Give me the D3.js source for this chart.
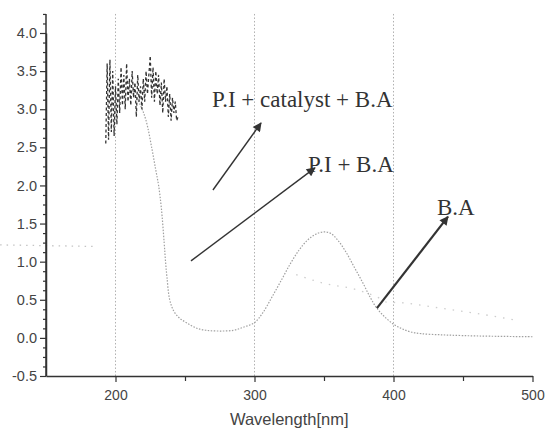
<!DOCTYPE html>
<html>
<head>
<meta charset="utf-8">
<script src="https://cdn.jsdelivr.net/npm/d3@7"></script>
<style>
  body { margin: 0; background: #fff; }
  svg { display: block; }
</style>
</head>
<body>
<svg id="chart" width="546" height="430"></svg>
<script>
// ---- data ----
// noisy dashed trace (P.I + catalyst + B.A), 1 nm steps from 193 nm
const noiseStart = 193;
const noiseValues = [
  2.55, 3.6, 2.6, 3.65, 2.7, 3.5, 2.65, 3.3, 2.8, 3.4,
  2.95, 3.55, 3.05, 3.45, 3.0, 3.6, 3.1, 3.4, 3.05, 3.5,
  3.15, 3.35, 2.9, 3.45, 3.1, 3.3, 3.0, 3.4, 3.1, 3.5,
  3.2, 3.45, 3.7, 3.15, 3.55, 3.1, 3.5, 3.2, 3.45, 3.05,
  3.35, 2.95, 3.4, 3.1, 3.3, 2.9, 3.2, 2.85, 3.15, 2.95,
  3.1, 2.85, 2.9
];

// gray dotted absorption curve
const curveWave = [212, 218, 222, 226, 229, 231, 233, 235, 236, 237, 239, 242, 246, 251, 258, 265, 275,
  285, 292, 300, 306, 313, 320, 326, 332, 338, 344, 350, 355, 360, 366, 372, 378, 383, 388,
  394, 400, 406, 412, 420, 435, 450, 470, 500];
const curveAbs = [3.25, 3.05, 2.85, 2.5, 2.2, 2.0, 1.7, 1.25, 1.0, 0.8, 0.5, 0.35, 0.26, 0.2, 0.13, 0.1, 0.09,
  0.1, 0.14, 0.2, 0.33, 0.55, 0.78, 0.98, 1.15, 1.28, 1.36, 1.39, 1.37, 1.28, 1.12, 0.92, 0.72, 0.54, 0.39,
  0.27, 0.18, 0.12, 0.08, 0.055, 0.04, 0.03, 0.022, 0.015];

// faint dotted trace
const faintWave = [330, 349, 374, 390, 395, 407, 430, 460, 486];
const faintAbs = [0.83, 0.72, 0.63, 0.52, 0.47, 0.46, 0.4, 0.32, 0.24];

// stray dotted trace left of the axis in the scan
const strayWave = [117, 150, 184];
const strayAbs = [1.22, 1.21, 1.2];

const xTicks = [200, 300, 400, 500];
const xMinor = [250, 350, 450];
const yTicks = [-0.5, 0, 0.5, 1.0, 1.5, 2.0, 2.5, 3.0, 3.5, 4.0];
const gridWave = [200, 300, 400];

// annotations: label, text anchor, arrow start, arrow tip (data units)
const labels = ["P.I + catalyst + B.A", "P.I + B.A", "B.A"];
const labelPos = [[269.4, 3.03], [338.5, 2.18], [431.3, 1.61]];
const arrowFrom = [[270.1, 1.94], [254.3, 1.01], [388.1, 0.39]];
const arrowTo = [[304.7, 2.82], [343.5, 2.23], [439.2, 1.59]];

// ---- scales ----
const x = d3.scaleLinear().domain([150, 500]).range([46, 532.5]);
const y = d3.scaleLinear().domain([-0.5, 4.0]).range([376, 33]);
const yTop = 4.25;

const svg = d3.select("#chart");
const plot = svg.append("g");

// vertical dotted grid lines
plot.selectAll(".grid")
  .data(gridWave)
  .enter()
  .append("line")
  .attr("x1", (d) => x(d))
  .attr("x2", (d) => x(d))
  .attr("y1", y(yTop))
  .attr("y2", y(-0.5))
  .attr("stroke", "#b0b0b0")
  .attr("stroke-width", 1)
  .attr("stroke-dasharray", "1.5,2");

const line = d3.line().x((d) => x(d[0])).y((d) => y(d[1]));

// stray dots
plot.append("path")
  .datum(strayWave.map((w, i) => [w, strayAbs[i]]))
  .attr("d", line)
  .attr("fill", "none")
  .attr("stroke", "#c4c4c4")
  .attr("stroke-width", 1.3)
  .attr("stroke-dasharray", "1.5,5");

// faint trace
plot.append("path")
  .datum(faintWave.map((w, i) => [w, faintAbs[i]]))
  .attr("d", d3.line().x((d) => x(d[0])).y((d) => y(d[1])).curve(d3.curveMonotoneX))
  .attr("fill", "none")
  .attr("stroke", "#cdcdcd")
  .attr("stroke-width", 1.3)
  .attr("stroke-dasharray", "1.5,7");

// main gray dotted curve
plot.append("path")
  .datum(curveWave.map((w, i) => [w, curveAbs[i]]))
  .attr("d", d3.line().x((d) => x(d[0])).y((d) => y(d[1])).curve(d3.curveCatmullRom))
  .attr("fill", "none")
  .attr("stroke", "#a0a0a0")
  .attr("stroke-width", 1.2)
  .attr("stroke-dasharray", "1.5,1.5");

// noisy dashed trace
plot.append("path")
  .datum(noiseValues.map((v, i) => [noiseStart + i, v]))
  .attr("d", line)
  .attr("fill", "none")
  .attr("stroke", "#333")
  .attr("stroke-width", 1.3)
  .attr("stroke-dasharray", "3,2.5");

// ---- axes ----
const axisColor = "#333";

const xAxis = svg.append("g")
  .attr("transform", `translate(0,${y(-0.5)})`)
  .call(d3.axisBottom(x).tickValues(xTicks).tickSize(6).tickSizeOuter(0).tickPadding(8));
svg.append("g")
  .attr("transform", `translate(0,${y(-0.5)})`)
  .call(d3.axisBottom(x).tickValues(xMinor).tickSize(5).tickFormat(""))
  .call((g) => g.select(".domain").remove());

const yAxis = svg.append("g")
  .attr("transform", `translate(${x(150)},0)`)
  .call(d3.axisLeft(y).tickValues(yTicks).tickSize(6).tickSizeOuter(0).tickPadding(3)
    .tickFormat((d) => d3.format(".1f")(d).replace("\u2212", "-")));

// minor ticks every 0.125
const yMinor = d3.range(-0.5, yTop + 0.001, 0.125).filter((d) => Math.abs(d * 2 - Math.round(d * 2)) > 0.01);
svg.append("g")
  .attr("transform", `translate(${x(150)},0)`)
  .call(d3.axisLeft(y).tickValues(yMinor).tickSize(3).tickFormat(""))
  .call((g) => g.select(".domain").remove());

// extend y axis line to the top of the frame
svg.append("line")
  .attr("x1", x(150)).attr("x2", x(150))
  .attr("y1", y(yTop)).attr("y2", y(-0.5))
  .attr("stroke", axisColor).attr("stroke-width", 1.5);

svg.selectAll(".domain").attr("stroke", axisColor).attr("stroke-width", 1.5);
svg.selectAll(".tick line").attr("stroke", axisColor).attr("stroke-width", 1.2);
svg.selectAll(".tick text")
  .attr("fill", "#444")
  .attr("font-family", "Liberation Sans, Arial, sans-serif");
xAxis.selectAll(".tick text").attr("font-size", 14);
yAxis.selectAll(".tick text").attr("font-size", 14.5);

svg.append("text")
  .attr("x", (x(150) + x(500)) / 2)
  .attr("y", 425)
  .attr("text-anchor", "middle")
  .attr("font-family", "Liberation Sans, Arial, sans-serif")
  .attr("font-size", 16.5)
  .attr("fill", "#444")
  .text("Wavelength[nm]");

// ---- annotations ----
const defs = svg.append("defs");
defs.append("marker")
  .attr("id", "head")
  .attr("viewBox", "0 0 10 10")
  .attr("refX", 9)
  .attr("refY", 5)
  .attr("markerWidth", 13)
  .attr("markerHeight", 9)
  .attr("markerUnits", "userSpaceOnUse")
  .attr("orient", "auto")
  .append("path")
  .attr("d", "M0,0 L10,5 L0,10 Z")
  .attr("fill", "#333");

arrowFrom.forEach((from, i) => {
  plot.append("line")
    .attr("x1", x(from[0]))
    .attr("y1", y(from[1]))
    .attr("x2", x(arrowTo[i][0]))
    .attr("y2", y(arrowTo[i][1]))
    .attr("stroke", "#333")
    .attr("stroke-width", i === 2 ? 2.2 : 1.4)
    .attr("marker-end", "url(#head)");
});

labels.forEach((t, i) => {
  plot.append("text")
    .attr("x", x(labelPos[i][0]))
    .attr("y", y(labelPos[i][1]))
    .attr("font-family", "Liberation Serif, Times New Roman, serif")
    .attr("font-size", 23)
    .attr("fill", "#333")
    .text(t);
});
</script>
</body>
</html>
